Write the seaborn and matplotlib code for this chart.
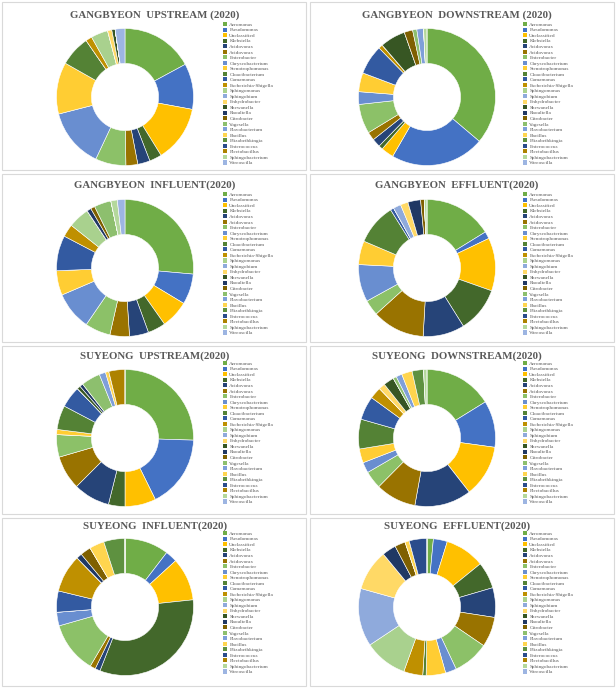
import matplotlib
matplotlib.use('Agg')
import matplotlib.pyplot as plt
from matplotlib.patches import Rectangle, Patch
import pandas as pd
import seaborn as sns

# ── Data ──────────────────────────────────────────────────────────────────────
GENERA = [
    'Aeromonas', 'Pseudomonas', 'Unclassified', 'Klebsiella', 'Acidovorax',
    'Acidovorax', 'Enterobacter', 'Chryseobacterium', 'Stenotrophomonas',
    'Cloacibacterium', 'Comamonas', 'Escherichia-Shigella', 'Sphingomonas',
    'Sphingobium', 'Enhydrobacter', 'Shewanella', 'Raoultella', 'Citrobacter',
    'Vogesella', 'Flavobacterium', 'Bacillus', 'Elizabethkingia',
    'Enterococcus', 'Flectobacillus', 'Sphingobacterium', 'Vitreoscilla',
]

GENUS_COLORS = [
    '#70AD47', '#4472C4', '#FFC000', '#43682B', '#264478', '#997300',
    '#8CC168', '#698ED0', '#FFCD33', '#548235', '#335AA1', '#BF9000',
    '#A9D18E', '#8FAADC', '#FFD966', '#375623', '#203864', '#7F6000',
    '#8DBF6E', '#7F9FD9', '#FFD54F', '#5E9140', '#2B4C8C', '#AD8200',
    '#B4D89C', '#9DB5E2',
]

TITLES = [
    'GANGBYEON  UPSTREAM (2020)', 'GANGBYEON  DOWNSTREAM (2020)',
    'GANGBYEON  INFLUENT(2020)', 'GANGBYEON  EFFLUENT(2020)',
    'SUYEONG  UPSTREAM(2020)', 'SUYEONG  DOWNSTREAM(2020)',
    'SUYEONG  INFLUENT(2020)', 'SUYEONG  EFFLUENT(2020)',
]

# relative abundance (%) per genus
GB_UP   = [17.1, 10.8, 13.3, 2.9, 2.9, 2.8, 7.2, 14.0, 12.2, 7.2, 0, 1.5, 4.0,
           0, 1.0, 0.8, 0, 0, 0, 0, 0, 0, 0, 0, 0, 2.3]
GB_DOWN = [36.4, 22.3, 3.0, 1.0, 2.0, 2.0, 7.0, 3.0, 4.5, 0, 7.0, 1.0, 0,
           0, 0, 6.0, 0, 2.0, 1.0, 1.6, 0, 0, 0, 0, 0.8, 0]
GB_INF  = [26.4, 7.2, 6.6, 4.2, 4.5, 4.6, 6.0, 9.0, 5.8, 0, 8.3, 3.0, 5.0,
           0, 0, 0, 1.0, 1.0, 4.0, 0, 0, 0, 0, 0, 1.5, 1.8]
GB_EFF  = [16.2, 1.7, 12.5, 10.7, 9.8, 12.4, 3.7, 8.8, 5.6, 9.7, 0.8, 0, 0,
           1.8, 1.8, 0, 3.0, 0.9, 0, 0, 0, 0, 0, 0, 0.6, 0]
SY_UP   = [25.5, 17.2, 7.3, 3.9, 8.6, 8.0, 5.3, 0, 1.2, 5.7, 5.1, 0, 0,
           0, 0, 0.8, 0.8, 0, 4.5, 1.5, 0.8, 0, 0, 3.8, 0, 0]
SY_DOWN = [16.2, 11.0, 12.3, 0, 13.4, 9.6, 4.2, 2.5, 3.3, 7.0, 5.6, 2.8, 0,
           0, 1.5, 2.5, 0, 0, 0.8, 1.4, 2.5, 2.7, 0, 0, 0.8, 0]
SY_INF  = [10.4, 2.8, 10.1, 32.6, 1.2, 1.3, 12.1, 3.2, 0, 0, 5.0, 8.9, 0,
           0, 0, 0, 1.3, 2.5, 0, 0, 3.5, 5.0, 0, 0, 0, 0]
SY_EFF  = [1.5, 3.3, 9.4, 6.3, 7.0, 7.1, 8.5, 2.6, 4.6, 0.8, 0, 4.5, 10.2,
           13.7, 9.7, 0, 3.3, 2.5, 0, 0, 1.0, 0, 4.2, 0, 0, 0]

SITES = [GB_UP, GB_DOWN, GB_INF, GB_EFF, SY_UP, SY_DOWN, SY_INF, SY_EFF]

# ── Layout (pixels) ───────────────────────────────────────────────────────────
W, H = 616, 690
ROW_TOPS  = [0, 172, 344, 516]
COL_LEFTS = [0, 308]
DONUT_C   = [(125, 97), (119, 97), (125, 96), (119, 96),
             (125, 94), (119, 94), (125, 91), (119, 91)]
DONUT_R   = 68.5
TITLE_X   = [155, 149]
TITLE_Y   = [15, 13, 12, 10]
LEG_X     = [223, 215]
LEG_TOP   = [22, 20, 17, 15]

sns.set_theme(style='white')
plt.rcParams['font.family'] = ['Liberation Serif', 'DejaVu Serif']

palette = sns.color_palette(GENUS_COLORS)
fig = plt.figure(figsize=(W / 100, H / 100), dpi=100)
fig.patch.set_facecolor('white')

handles = [Patch(facecolor=col, edgecolor='none', label=g)
           for g, col in zip(GENERA, palette)]

for i, (title, vals) in enumerate(zip(TITLES, SITES)):
    r, c = divmod(i, 2)
    x0, y0 = COL_LEFTS[c], ROW_TOPS[r]

    # panel frame
    fig.add_artist(Rectangle(((x0 + 2) / W, 1 - (y0 + 170) / H), 304 / W, 168 / H,
                             transform=fig.transFigure, fill=False,
                             ec='#d9d9d9', lw=0.8))

    df = pd.DataFrame({'genus': GENERA, 'share': vals})
    cx, cy = DONUT_C[i]
    ax = fig.add_axes([(x0 + cx - DONUT_R) / W, 1 - (y0 + cy + DONUT_R) / H,
                       2 * DONUT_R / W, 2 * DONUT_R / H])
    ax.pie(df['share'], colors=palette, startangle=90, counterclock=False,
           wedgeprops=dict(width=0.51, edgecolor='white', linewidth=0.4))
    ax.set_xlim(-1, 1)
    ax.set_ylim(-1, 1)
    ax.set_aspect('equal')

    fig.text((x0 + TITLE_X[c]) / W, 1 - (y0 + TITLE_Y[r]) / H, title,
             ha='center', va='center', fontsize=7.8, fontweight='bold',
             color='#595959')

    fig.legend(handles=handles, loc='upper left',
               bbox_to_anchor=((x0 + LEG_X[c]) / W, 1 - (y0 + LEG_TOP[r]) / H),
               frameon=False, fontsize=3.8, labelspacing=0.13,
               handlelength=0.8, handleheight=0.8, handletextpad=0.4,
               borderpad=0, borderaxespad=0, labelcolor='#595959')

fig.savefig('out.png', dpi=100, facecolor='white')
